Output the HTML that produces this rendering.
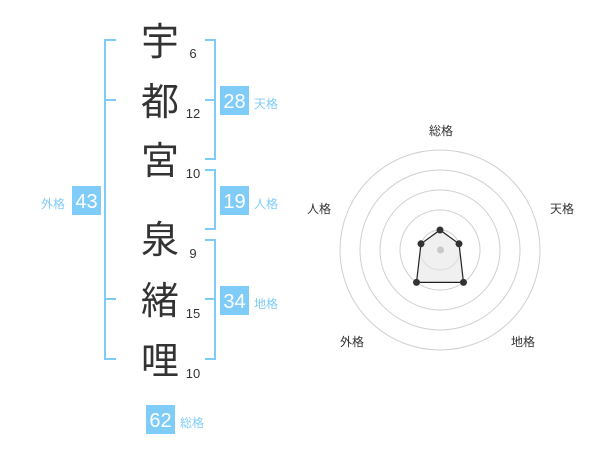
<!DOCTYPE html>
<html><head><meta charset="utf-8"><style>
html,body{margin:0;padding:0;background:#fff;}
svg{display:block;}
.k{font-family:"Liberation Sans","Noto Sans CJK JP",sans-serif;font-size:38px;fill:#333;text-anchor:middle;}
.n{font-family:"Liberation Sans",sans-serif;font-size:13px;fill:#333;text-anchor:middle;}
.b{font-family:"Liberation Sans",sans-serif;font-size:20px;fill:#fff;text-anchor:middle;}
.l{font-family:"Liberation Sans","Noto Sans CJK JP",sans-serif;font-size:12px;fill:#80ccf9;}
.r{font-family:"Liberation Sans","Noto Sans CJK JP",sans-serif;font-size:12px;fill:#333;text-anchor:middle;}
</style></head><body>
<svg width="600" height="470" viewBox="0 0 600 470" xmlns="http://www.w3.org/2000/svg">
<g fill="none" stroke="#80ccf9" stroke-width="2">
<path d="M116 40 H105 V359 H116 M105 100 H116 M105 299 H116"/>
<path d="M205 40 H215 V159 H205 M215 100 H205"/>
<path d="M205 170 H215 V229 H205"/>
<path d="M205 240 H215 V359 H205 M215 299 H205"/>
</g>
<text class="k" x="160" y="55">宇</text>
<text class="k" x="160" y="115">都</text>
<text class="k" x="160" y="174">宮</text>
<text class="k" x="160" y="253">泉</text>
<text class="k" x="160" y="314">緒</text>
<text class="k" x="160" y="374">哩</text>
<text class="n" x="193" y="58">6</text>
<text class="n" x="193" y="118">12</text>
<text class="n" x="193" y="178">10</text>
<text class="n" x="193" y="258">9</text>
<text class="n" x="193" y="318">15</text>
<text class="n" x="193" y="378">10</text>
<g fill="#80ccf9">
<rect x="220" y="86" width="29" height="29"/>
<rect x="220" y="186" width="29" height="29"/>
<rect x="220" y="286" width="29" height="29"/>
<rect x="72" y="186" width="29" height="29"/>
<rect x="146" y="405" width="29" height="29"/>
</g>
<text class="b" x="234.5" y="108">28</text>
<text class="b" x="234.5" y="208">19</text>
<text class="b" x="234.5" y="308">34</text>
<text class="b" x="86.5" y="208">43</text>
<text class="b" x="160.5" y="427">62</text>
<text class="l" x="254" y="108">天格</text>
<text class="l" x="254" y="208">人格</text>
<text class="l" x="254" y="308">地格</text>
<text class="l" x="41" y="208">外格</text>
<text class="l" x="180" y="427">総格</text>
<g fill="none" stroke="#d0d0d0" stroke-width="1">
<circle cx="440" cy="250" r="20"/>
<circle cx="440" cy="250" r="40"/>
<circle cx="440" cy="250" r="60"/>
<circle cx="440" cy="250" r="80"/>
<circle cx="440" cy="250" r="100"/>
</g>
<polygon points="440,230 459,243.8 463.5,282.4 416.5,282.4 421,243.8" fill="#e6e6e6" fill-opacity="0.6" stroke="#222" stroke-width="1.2"/>
<circle cx="440.5" cy="250" r="3.5" fill="#c8c8c8"/>
<g fill="#333">
<circle cx="440" cy="230" r="3.5"/>
<circle cx="459" cy="243.8" r="3.5"/>
<circle cx="463.5" cy="282.4" r="3.5"/>
<circle cx="416.5" cy="282.4" r="3.5"/>
<circle cx="421" cy="243.8" r="3.5"/>
</g>
<text class="r" x="441" y="135">総格</text>
<text class="r" x="562" y="213">天格</text>
<text class="r" x="523" y="346">地格</text>
<text class="r" x="352" y="346">外格</text>
<text class="r" x="319" y="213">人格</text>
</svg>
</body></html>
